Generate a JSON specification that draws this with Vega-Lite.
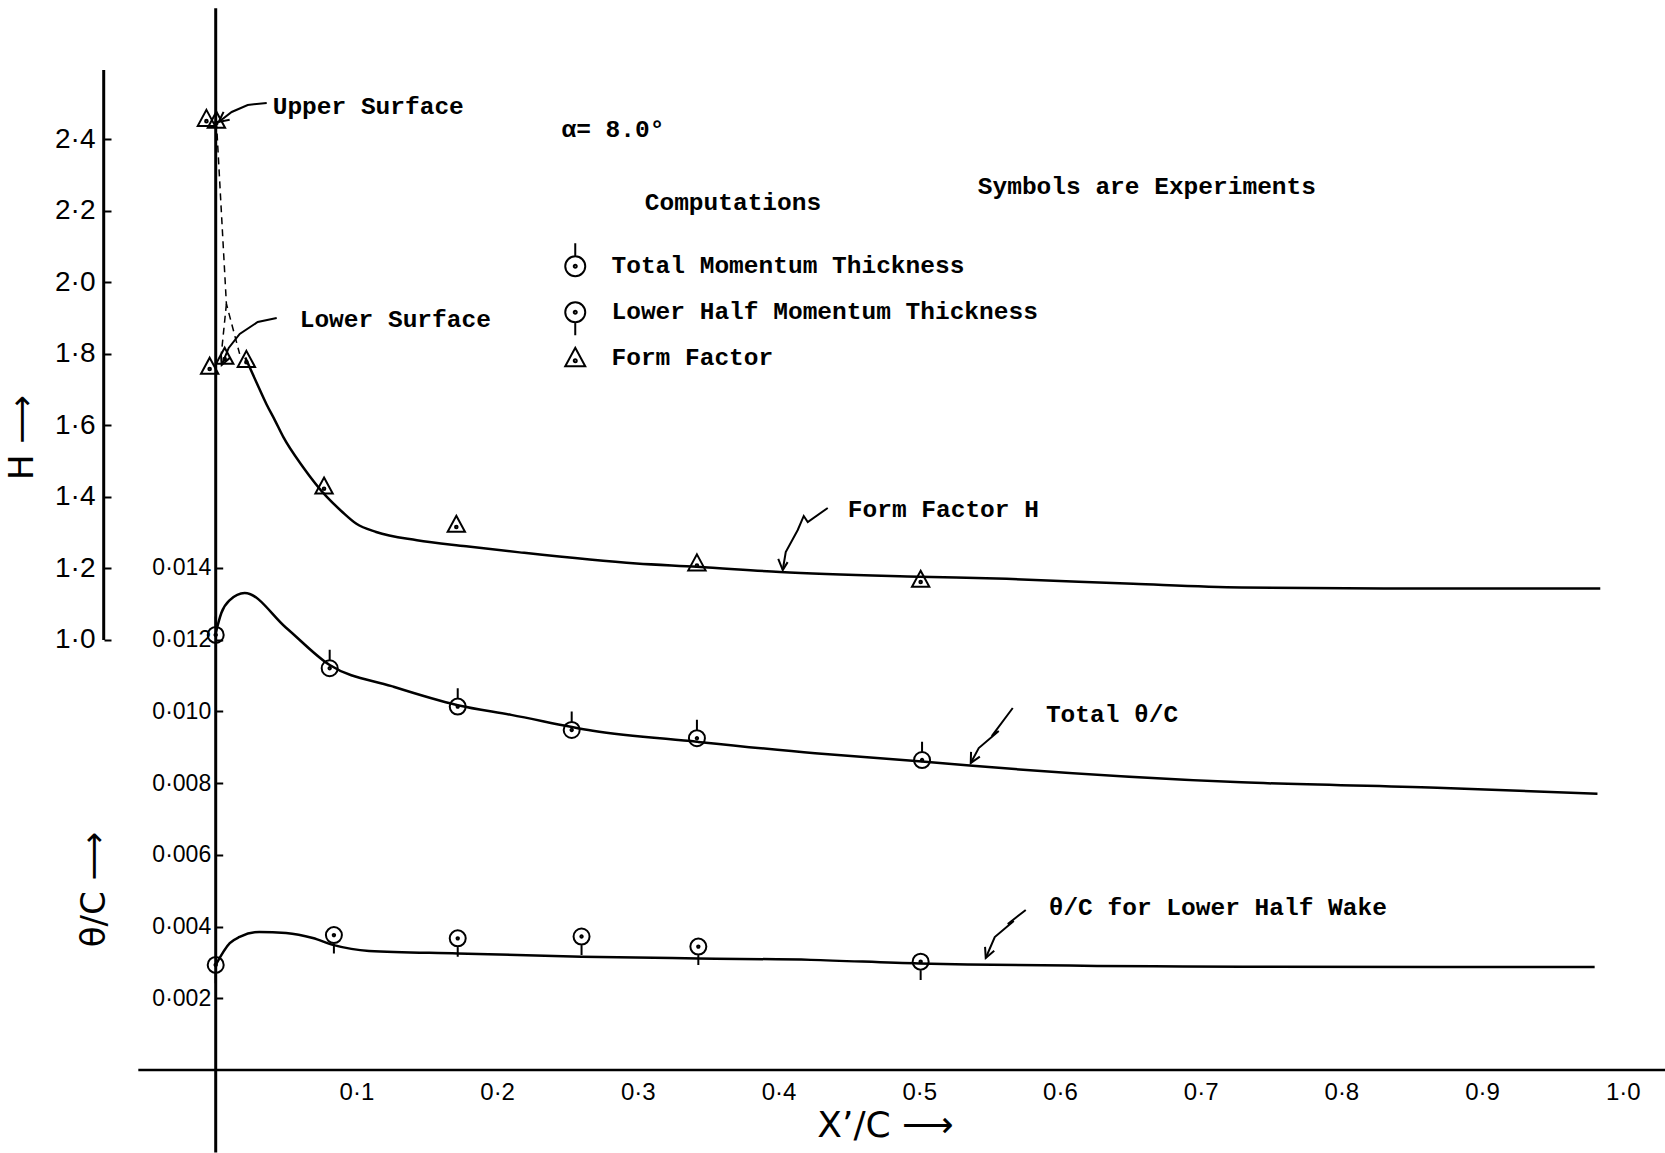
{
"$schema":"https://vega.github.io/schema/vega-lite/v6.json",
"width":1590,"height":1060,
"autosize":{"type":"none"},
"padding":{"left":75,"top":10,"right":0,"bottom":83},
"background":"white",
"config":{"view":{"stroke":null},"axis":{"grid":false,"labelColor":"black","titleColor":"black","tickColor":"black","titleFontWeight":"normal"}},
"datasets":{
"thetaAxisV":[{"x":0,"y":-0.0023,"y2":0.0296}],
"thetaAxisH":[{"x":-0.055,"x2":1.03,"y":0}],
"thetaCurves":[
{"g":"total","x":0,"y":0.01218},{"g":"total","x":0.004,"y":0.01274},{"g":"total","x":0.01,"y":0.0131},{"g":"total","x":0.0206,"y":0.0133},{"g":"total","x":0.05,"y":0.01233},{"g":"total","x":0.081,"y":0.01129},{"g":"total","x":0.125,"y":0.0107},{"g":"total","x":0.172,"y":0.01017},{"g":"total","x":0.21,"y":0.0099},{"g":"total","x":0.268,"y":0.00946},{"g":"total","x":0.342,"y":0.00915},{"g":"total","x":0.426,"y":0.00883},{"g":"total","x":0.502,"y":0.0086},{"g":"total","x":0.538,"y":0.00848},{"g":"total","x":0.729,"y":0.00802},{"g":"total","x":0.868,"y":0.00787},{"g":"total","x":0.982,"y":0.0077},
{"g":"lower","x":0,"y":0.00293},{"g":"lower","x":0.01,"y":0.00354},{"g":"lower","x":0.017,"y":0.00371},{"g":"lower","x":0.031,"y":0.00385},{"g":"lower","x":0.05,"y":0.00382},{"g":"lower","x":0.069,"y":0.00368},{"g":"lower","x":0.084,"y":0.00348},{"g":"lower","x":0.109,"y":0.00332},{"g":"lower","x":0.172,"y":0.00325},{"g":"lower","x":0.26,"y":0.00316},{"g":"lower","x":0.343,"y":0.00311},{"g":"lower","x":0.423,"y":0.00307},{"g":"lower","x":0.5,"y":0.00297},{"g":"lower","x":0.73,"y":0.00288},{"g":"lower","x":0.98,"y":0.00287}
],
"thetaArrows":[
{"g":"tot","i":0,"x":0.56645,"y":0.010091},{"g":"tot","i":1,"x":0.55153,"y":0.0093101},{"g":"tot","i":2,"x":0.5565,"y":0.0094495},{"g":"tot","i":3,"x":0.54229,"y":0.0089756},{"g":"tot","i":4,"x":0.5366,"y":0.0085575},
{"g":"totHead","i":0,"x":0.54307,"y":0.0087373},{"g":"totHead","i":1,"x":0.5366,"y":0.0085575},{"g":"totHead","i":2,"x":0.53682,"y":0.0088683},
{"g":"low","i":0,"x":0.57569,"y":0.0044599},{"g":"low","i":1,"x":0.5629,"y":0.0040697},{"g":"low","i":2,"x":0.56716,"y":0.0041533},{"g":"low","i":3,"x":0.55366,"y":0.0037073},{"g":"low","i":4,"x":0.54726,"y":0.003122},
{"g":"lowHead","i":0,"x":0.5533,"y":0.0033226},{"g":"lowHead","i":1,"x":0.54726,"y":0.003122},{"g":"lowHead","i":2,"x":0.54677,"y":0.0034341}
],
"thetaExp":[
{"series":"Total Momentum Thickness","x":0,"y":0.01213},{"series":"Total Momentum Thickness","x":0.081,"y":0.0112},{"series":"Total Momentum Thickness","x":0.172,"y":0.01013},{"series":"Total Momentum Thickness","x":0.253,"y":0.00948},{"series":"Total Momentum Thickness","x":0.342,"y":0.00925},{"series":"Total Momentum Thickness","x":0.502,"y":0.00864},
{"series":"Lower Half Momentum Thickness","x":0,"y":0.00293},{"series":"Lower Half Momentum Thickness","x":0.084,"y":0.00376},{"series":"Lower Half Momentum Thickness","x":0.172,"y":0.00367},{"series":"Lower Half Momentum Thickness","x":0.26,"y":0.00372},{"series":"Lower Half Momentum Thickness","x":0.343,"y":0.00344},{"series":"Lower Half Momentum Thickness","x":0.501,"y":0.00302}
],
"thetaText":[
{"label":"Total θ/C","x":0.59,"y":0.0099},
{"label":"θ/C for Lower Half Wake","x":0.592,"y":0.004516}
],
"hAxisLine":[{"x":-0.0796,"y":1.0,"y2":2.594}],
"hCurve":[
{"x":0.021,"y":1.79},{"x":0.029,"y":1.72},{"x":0.036,"y":1.66},{"x":0.042,"y":1.615},{"x":0.048,"y":1.568},{"x":0.062,"y":1.484},{"x":0.079,"y":1.4},{"x":0.09,"y":1.358},{"x":0.1,"y":1.325},{"x":0.114,"y":1.302},{"x":0.143,"y":1.279},{"x":0.178,"y":1.262},{"x":0.216,"y":1.245},{"x":0.299,"y":1.214},{"x":0.342,"y":1.205},{"x":0.401,"y":1.19},{"x":0.5,"y":1.177},{"x":0.562,"y":1.171},{"x":0.652,"y":1.157},{"x":0.729,"y":1.147},{"x":0.85,"y":1.144},{"x":0.984,"y":1.144}
],
"hDashed":[
{"g":"A","i":0,"x":0.0005,"y":2.45},{"g":"A","i":1,"x":0.0076,"y":1.94},{"g":"A","i":2,"x":0.017,"y":1.8},
{"g":"B","i":0,"x":0.0076,"y":1.94},{"g":"B","i":1,"x":0.004,"y":1.8}
],
"hArrows":[
{"g":"up","i":0,"x":0.03625,"y":2.5017},{"g":"up","i":1,"x":0.02274,"y":2.4961},{"g":"up","i":2,"x":0.01137,"y":2.4765},{"g":"up","i":3,"x":0.00213,"y":2.4485},
{"g":"upHead","i":0,"x":0.00991,"y":2.4546},{"g":"upHead","i":1,"x":0.00213,"y":2.4485},{"g":"upHead","i":2,"x":0.00558,"y":2.4767},
{"g":"lo","i":0,"x":0.04336,"y":1.9004},{"g":"lo","i":1,"x":0.02985,"y":1.8893},{"g":"lo","i":2,"x":0.01706,"y":1.8557},{"g":"lo","i":3,"x":0.00924,"y":1.8166},{"g":"lo","i":4,"x":0.00426,"y":1.769},
{"g":"loHead","i":0,"x":0.01023,"y":1.7896},{"g":"loHead","i":1,"x":0.00426,"y":1.769},{"g":"loHead","i":2,"x":0.0037,"y":1.8002},
{"g":"ff","i":0,"x":0.43497,"y":1.3691},{"g":"ff","i":1,"x":0.42076,"y":1.33},{"g":"ff","i":2,"x":0.41791,"y":1.3468},{"g":"ff","i":3,"x":0.41365,"y":1.3076},{"g":"ff","i":4,"x":0.40512,"y":1.2461},{"g":"ff","i":5,"x":0.403,"y":1.1957},
{"g":"ffHead","i":0,"x":0.40647,"y":1.2178},{"g":"ffHead","i":1,"x":0.403,"y":1.1957},{"g":"ffHead","i":2,"x":0.39979,"y":1.2268}
],
"hExp":[
{"series":"Form Factor","x":-0.0066,"y":2.457},{"series":"Form Factor","x":0.0005,"y":2.452},{"series":"Form Factor","x":-0.0043,"y":1.764},{"series":"Form Factor","x":0.0064,"y":1.792},{"series":"Form Factor","x":0.0218,"y":1.783},{"series":"Form Factor","x":0.077,"y":1.429},{"series":"Form Factor","x":0.171,"y":1.322},{"series":"Form Factor","x":0.342,"y":1.214},{"series":"Form Factor","x":0.501,"y":1.168}
],
"hText":[
{"label":"Upper Surface","x":0.0405,"y":2.4905},
{"label":"Lower Surface","x":0.0597,"y":1.8949},
{"label":"α= 8.0°","x":0.2457,"y":2.4262},
{"label":"Computations","x":0.3049,"y":2.2212},
{"label":"Symbols are Experiments","x":0.5416,"y":2.2674},
{"label":"Form Factor H","x":0.4492,"y":1.3635}
]
},
"encoding":{"x":{"field":"x","type":"quantitative","scale":{"domain":[-0.1,1.03],"nice":false,"zero":false},
"axis":{"values":[0.1,0.2,0.3,0.4,0.5,0.6,0.7,0.8,0.9,1.0],"labelExpr":"replace(format(datum.value,'.1f'),'.','·')","domain":false,"ticks":false,"labelPadding":10,"labelFont":"Liberation Sans","labelFontSize":24,"title":"X’/C ⟶","titleFont":"DejaVu Sans","titleFontSize":36,"titleX":810,"titleY":66,"titleBaseline":"alphabetic","titleAlign":"center"}}},
"layer":[
{
"encoding":{"y":{"field":"y","type":"quantitative","scale":{"domain":[0,0.02955],"nice":false,"zero":false},
"axis":{"orient":"left","offset":-140.7,"values":[0.002,0.004,0.006,0.008,0.01,0.012,0.014],"labelExpr":"replace(format(datum.value,'.3f'),'.','·')","domain":false,"ticks":true,"tickSize":-7,"tickWidth":2,"labelPadding":12,"labelFont":"Liberation Sans","labelFontSize":23,"title":"θ/C ⟶","titleFont":"DejaVu Sans","titleFontSize":34,"titleX":-121,"titleY":879,"titleAngle":270,"titleAlign":"center","titleBaseline":"middle"}}},
"layer":[
{"data":{"name":"thetaAxisV"},"mark":{"type":"rule","strokeWidth":3,"color":"black"},"encoding":{"y2":{"field":"y2"}}},
{"data":{"name":"thetaAxisH"},"mark":{"type":"rule","strokeWidth":2.5,"color":"black"},"encoding":{"x2":{"field":"x2"}}},
{"data":{"name":"thetaCurves"},"mark":{"type":"line","interpolate":"monotone","strokeWidth":2.5,"color":"black"},"encoding":{"detail":{"field":"g","type":"nominal"}}},
{"data":{"name":"thetaArrows"},"mark":{"type":"line","strokeWidth":2,"color":"black"},"encoding":{"detail":{"field":"g","type":"nominal"},"order":{"field":"i","type":"quantitative"}}},
{"data":{"name":"thetaExp"},"mark":{"type":"point","filled":false,"strokeWidth":2,"color":"black","size":256,"opacity":1},
"encoding":{"shape":{"field":"series","type":"nominal",
"scale":{"domain":["Total Momentum Thickness","Lower Half Momentum Thickness","Form Factor"],"range":["M1,0A1,1,0,1,1,-1,0A1,1,0,1,1,1,0M0,-1L0,-2.3M0.15,0A0.15,0.15,0,1,1,-0.15,0A0.15,0.15,0,1,1,0.15,0","M1,0A1,1,0,1,1,-1,0A1,1,0,1,1,1,0M0,1L0,2.3M0.15,0A0.15,0.15,0,1,1,-0.15,0A0.15,0.15,0,1,1,0.15,0","M0,-1.05L1,0.8L-1,0.8ZM0.15,0.25A0.15,0.15,0,1,1,-0.15,0.25A0.15,0.15,0,1,1,0.15,0.25"]},
"legend":{"orient":"none","legendX":488,"legendY":244,"title":null,"labelFont":"Liberation Mono","labelFontSize":24.5,"labelFontWeight":"bold","labelColor":"black","symbolSize":400,"symbolStrokeWidth":2,"symbolStrokeColor":"black","symbolFillColor":"transparent","gridAlign":"all","rowPadding":3,"labelOffset":24,"padding":0,"labelLimit":700}}}},
{"data":{"name":"thetaText"},"mark":{"type":"text","align":"left","baseline":"middle","font":"Liberation Mono","fontSize":24.5,"fontWeight":"bold","color":"black"},"encoding":{"text":{"field":"label","type":"nominal"}}}
]
},
{
"encoding":{"y":{"field":"y","type":"quantitative","scale":{"domain":[-0.2025,2.7617],"nice":false,"zero":false},
"axis":{"orient":"left","offset":-29,"values":[1,1.2,1.4,1.6,1.8,2,2.2,2.4],"labelExpr":"replace(format(datum.value,'.1f'),'.','·')","domain":false,"ticks":true,"tickSize":-7,"tickWidth":2,"labelPadding":16,"labelFont":"Liberation Sans","labelFontSize":28,"title":"H ⟶","titleFont":"DejaVu Sans","titleFontSize":34,"titleX":-82,"titleY":427,"titleAngle":270,"titleAlign":"center","titleBaseline":"middle"}}},
"layer":[
{"data":{"name":"hAxisLine"},"mark":{"type":"rule","strokeWidth":3,"color":"black"},"encoding":{"y2":{"field":"y2"}}},
{"data":{"name":"hCurve"},"mark":{"type":"line","interpolate":"monotone","strokeWidth":2.5,"color":"black"},"encoding":{}},
{"data":{"name":"hDashed"},"mark":{"type":"line","strokeWidth":1.5,"strokeDash":[7,5],"color":"black"},"encoding":{"detail":{"field":"g","type":"nominal"},"order":{"field":"i","type":"quantitative"}}},
{"data":{"name":"hArrows"},"mark":{"type":"line","strokeWidth":2,"color":"black"},"encoding":{"detail":{"field":"g","type":"nominal"},"order":{"field":"i","type":"quantitative"}}},
{"data":{"name":"hExp"},"mark":{"type":"point","filled":false,"strokeWidth":2,"color":"black","size":300,"opacity":1},
"encoding":{"shape":{"field":"series","type":"nominal",
"scale":{"domain":["Total Momentum Thickness","Lower Half Momentum Thickness","Form Factor"],"range":["M1,0A1,1,0,1,1,-1,0A1,1,0,1,1,1,0M0,-1L0,-2.3M0.15,0A0.15,0.15,0,1,1,-0.15,0A0.15,0.15,0,1,1,0.15,0","M1,0A1,1,0,1,1,-1,0A1,1,0,1,1,1,0M0,1L0,2.3M0.15,0A0.15,0.15,0,1,1,-0.15,0A0.15,0.15,0,1,1,0.15,0","M0,-1.05L1,0.8L-1,0.8ZM0.15,0.25A0.15,0.15,0,1,1,-0.15,0.25A0.15,0.15,0,1,1,0.15,0.25"]},
"legend":{"orient":"none","legendX":488,"legendY":244,"title":null,"labelFont":"Liberation Mono","labelFontSize":24.5,"labelFontWeight":"bold","labelColor":"black","symbolSize":400,"symbolStrokeWidth":2,"symbolStrokeColor":"black","symbolFillColor":"transparent","gridAlign":"all","rowPadding":3,"labelOffset":24,"padding":0,"labelLimit":700}}}},
{"data":{"name":"hText"},"mark":{"type":"text","align":"left","baseline":"middle","font":"Liberation Mono","fontSize":24.5,"fontWeight":"bold","color":"black"},"encoding":{"text":{"field":"label","type":"nominal"}}}
]
}
],
"resolve":{"scale":{"y":"independent"}}
}
